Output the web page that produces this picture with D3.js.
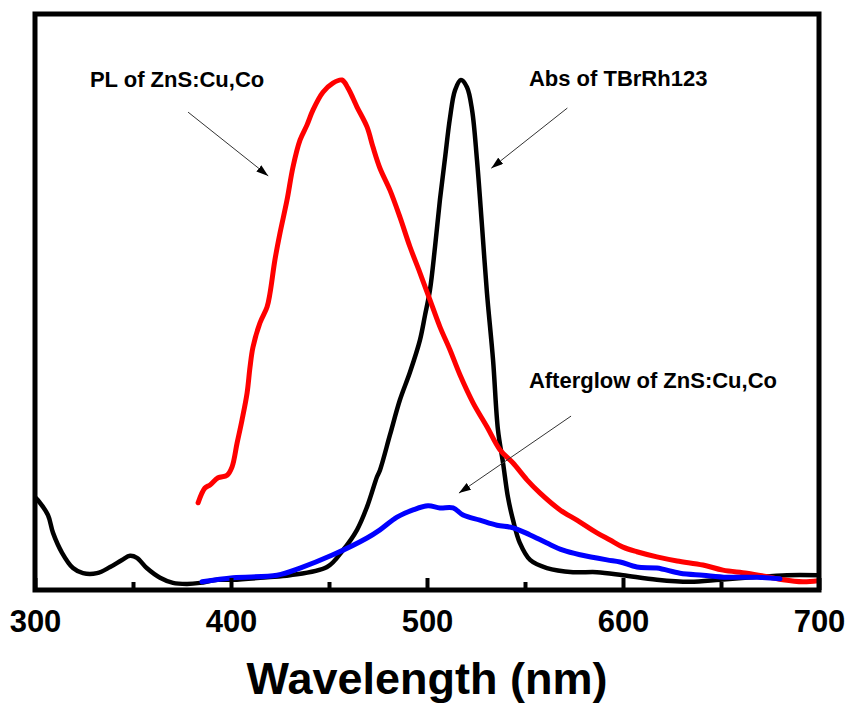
<!DOCTYPE html>
<html><head><meta charset="utf-8">
<script src="https://cdn.jsdelivr.net/npm/d3@7"></script>
<style>body{margin:0;background:#fff}svg{display:block}</style>
</head><body>
<svg id="c" width="848" height="704"></svg>
<script>
// ---- data (intensity in arbitrary units, Abs peak = 100) ----
const xTicks = [300, 400, 500, 600, 700];
const xMinorTicks = [350, 450, 550, 650];
const xTitle = "Wavelength (nm)";

const absWl  = [300,301.5,306.6,309.2,313.8,319.4,324.5,331.6,338.3,344.4,348.5,352,357,363.8,370.4,377.6,384.2,392.9,401,418.4,430,449,457.1,464.3,469.4,474.5,476,481.1,486.2,491.3,496.4,499,501.5,504.1,506.6,509.2,511.7,514.3,517.3,520.4,523,525.5,528.1,530.6,533.7,536.2,538.8,541.3,543.9,547.4,552.6,561.2,574.5,586.7,600,617.3,634.2,649.5,666.3,683.7,699.5];
const absVal = [18.2,17.6,14.7,11.2,7.3,4.3,3.3,3.3,4.5,5.9,6.7,6.3,4.3,2.4,1.4,1.2,1.4,2.0,2.0,2.5,2.9,4.5,7.8,11.8,16.3,22.2,23.5,30.4,37.3,42.7,49.0,53.9,58.8,67.3,76.5,84.7,92.5,98.0,100,98.6,94.1,84.3,71.2,58.2,45.1,31.4,24.9,18.2,13.7,9.2,5.9,4.3,3.5,3.5,2.9,2.0,1.6,2.0,2.5,2.9,2.9];

const plWl  = [383.2,386.7,389.3,393.4,398,400.5,403.1,405.6,408.2,409.7,411.2,414.8,418.4,419.9,422.4,425,428.6,431.6,435.2,438.8,441.8,446.9,452,456.6,459.7,464.3,469.4,472.4,476,481.1,486.2,491.3,496.4,501.5,506.6,511.7,516.8,523.5,530.6,537.2,543.9,551,557.7,567.9,576.5,586.7,593.4,600,607.1,617.3,627.6,640.8,651,663.3,675,681.6,691.8,699.5];
const plVal = [17.1,20.0,20.6,22.0,22.5,24.1,28.8,33.3,38.6,43.7,47.6,52.4,55.5,58.2,64.7,70.0,76.5,82.9,88.2,91.2,94.1,97.6,99.4,100,98.4,94.7,90.8,86.9,82.7,78.4,73.1,67.3,62.2,56.9,51.6,47.1,42.2,36.7,32.0,27.5,24.9,21.6,19.0,15.7,13.7,11.2,9.8,8.4,7.5,6.5,5.7,4.9,3.9,3.3,2.5,2.0,1.6,1.8];

const agWl  = [385.2,401,423.5,435.2,452,469.4,476,484.7,492.9,500.5,506.6,513.3,518.4,527,535.7,543.9,552.6,561.2,569.4,578.1,591.8,598.5,607.1,617.3,629.1,640.8,653.1,668.4,680.1];
const agVal = [1.6,2.4,2.9,4.3,6.9,10.2,11.8,14.3,15.7,16.5,16.1,16.1,14.7,13.7,12.7,12.2,10.8,9.2,7.8,6.9,5.9,5.5,4.5,4.3,3.3,2.9,2.5,2.5,2.2];

const labels = [
  {text: "PL of ZnS:Cu,Co", wl: 328, v: 98.6},
  {text: "Abs of TBrRh123", wl: 552, v: 98.8},
  {text: "Afterglow of ZnS:Cu,Co", wl: 552, v: 39.6}
];
// arrows: [tail wl, tail v, head wl, head v]
const arrows = [
  [378.1, 93.7, 419, 81.2],
  [571.6, 94.5, 532.8, 82.7],
  [573.5, 34.1, 516.3, 19.0]
];

// ---- drawing ----
const svg = d3.select("#c");
const L = 35, R = 819, T = 14, B = 590;
const x = d3.scaleLinear().domain([300, 700]).range([L, R]);
const y = d3.scaleLinear().domain([0, 100]).range([B, 80]);
const font = "'Liberation Sans', Arial, Helvetica, sans-serif";

const line = d3.line().x(d => x(d[0])).y(d => y(d[1])).curve(d3.curveCatmullRom.alpha(0.5));
const series = [
  {wl: absWl, val: absVal, color: "#000000", w: 4.5},
  {wl: plWl, val: plVal, color: "#ff0000", w: 5},
  {wl: agWl, val: agVal, color: "#0000ff", w: 5}
];
svg.append("defs").append("clipPath").attr("id", "clip")
  .append("rect").attr("x", L).attr("y", T).attr("width", R - L).attr("height", B - T);

const g = svg.append("g").attr("clip-path", "url(#clip)");
series.forEach(s => {
  g.append("path")
    .datum(s.wl.map((w, i) => [w, s.val[i]]))
    .attr("d", line)
    .attr("fill", "none")
    .attr("stroke", s.color)
    .attr("stroke-width", s.w)
    .attr("stroke-linejoin", "round")
    .attr("stroke-linecap", "round");
});

// frame
svg.append("rect").attr("x", L).attr("y", T).attr("width", R - L).attr("height", B - T)
  .attr("fill", "none").attr("stroke", "#000").attr("stroke-width", 5);

// major axis
const ax = svg.append("g").attr("transform", `translate(0,${B})`)
  .call(d3.axisBottom(x).tickValues(xTicks).tickSizeInner(-12).tickSizeOuter(0).tickPadding(20).tickFormat(d3.format("d")));
ax.select(".domain").remove();
ax.selectAll(".tick line").attr("stroke", "#000").attr("stroke-width", 4);
ax.selectAll(".tick text").attr("fill", "#000").style("font-family", font)
  .style("font-size", "31px").style("font-weight", "bold");

// minor axis
const axm = svg.append("g").attr("transform", `translate(0,${B})`)
  .call(d3.axisBottom(x).tickValues(xMinorTicks).tickSizeInner(-8).tickSizeOuter(0).tickFormat(""));
axm.select(".domain").remove();
axm.selectAll(".tick line").attr("stroke", "#000").attr("stroke-width", 4);

// axis title
svg.append("text").attr("x", (L + R) / 2).attr("y", 694).attr("text-anchor", "middle")
  .style("font-family", font).style("font-size", "45px").style("font-weight", "bold")
  .text(xTitle);

// labels
labels.forEach(l => {
  svg.append("text").attr("x", x(l.wl)).attr("y", y(l.v))
    .style("font-family", font).style("font-size", "22px").style("font-weight", "bold")
    .attr("fill", "#000").text(l.text);
});

// arrows
svg.select("defs").append("marker").attr("id", "ah")
  .attr("viewBox", "0 0 12 8").attr("refX", 12).attr("refY", 4)
  .attr("markerWidth", 12).attr("markerHeight", 8).attr("markerUnits", "userSpaceOnUse")
  .attr("orient", "auto")
  .append("path").attr("d", "M0,0 L12,4 L0,8 Z").attr("fill", "#000");
arrows.forEach(a => {
  svg.append("line").attr("x1", x(a[0])).attr("y1", y(a[1])).attr("x2", x(a[2])).attr("y2", y(a[3]))
    .attr("stroke", "#333").attr("stroke-width", 1).attr("marker-end", "url(#ah)");
});
</script>
</body></html>
